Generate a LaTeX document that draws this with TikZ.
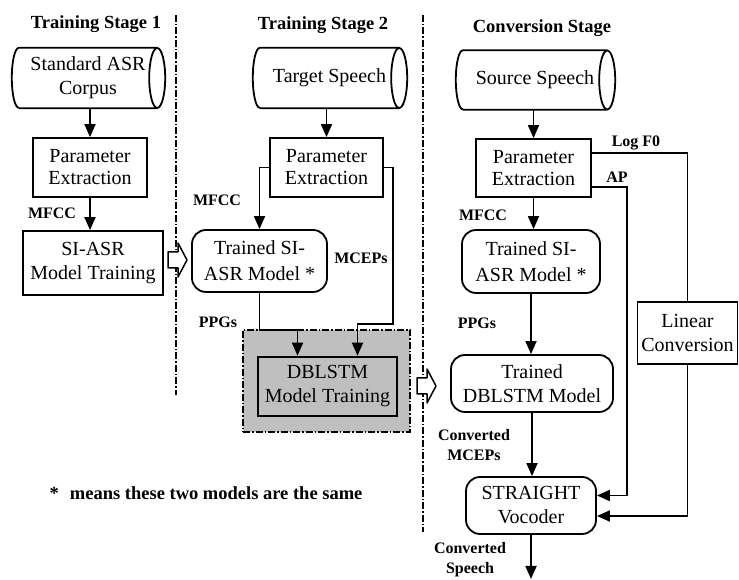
\documentclass[tikz,border=0pt]{standalone}
\usepackage{fontspec}
\setmainfont{Liberation Serif}
\usetikzlibrary{arrows.meta,calc}

\begin{document}
\begin{tikzpicture}[x=1pt,y=1pt,
  box/.style={draw,line width=1.8pt,align=center,inner sep=0pt,
    font=\fontsize{20}{24}\selectfont},
  rbox/.style={box,rounded corners=14pt},
  cyltext/.style={align=center,inner sep=0pt,font=\fontsize{20}{24}\selectfont},
  lbl/.style={font=\bfseries\fontsize{16}{18}\selectfont,align=center,inner sep=0pt},
  ttl/.style={font=\bfseries\fontsize{18.5}{22}\selectfont,inner sep=0pt},
  arr/.style={line width=1.8pt,-{Triangle[length=13pt,width=11pt]}},
  link/.style={line width=1.8pt},
  sep/.style={line width=1.5pt,dash pattern=on 7pt off 2pt on 1.5pt off 2pt},
  blkline/.style={draw,fill=white,line width=1.5pt,line join=round}
]
\useasboundingbox (0,0) rectangle (739,580);

% stage separators
\draw[sep] (176,565) -- (176,185);
\draw[sep] (423,565) -- (423,48);

% titles
\node[ttl] (t1) at (96,556) {Training Stage 1};
\node[ttl] (t2) at (323,555) {Training Stage 2};
\node[ttl] (t3) at (542,552) {Conversion Stage};

% ---------- training stage 1 ----------
\node[cyltext,minimum width=138pt,minimum height=60pt] (cyl1) at (88,502) {Standard ASR\\Corpus};
\draw[link] (cyl1.north west) -- (cyl1.north east) (cyl1.east) ellipse[x radius=8,y radius=30]
  (cyl1.south west) -- (cyl1.south east)
  (cyl1.north west) arc[start angle=90,end angle=270,x radius=7,y radius=30];
\node[box,minimum width=114pt,minimum height=59pt,font=\fontsize{20}{22}\selectfont] (pe1) at (90,412.5) {Parameter\\Extraction};
\node[box,minimum width=140pt,minimum height=64pt] (si1) at (93,317) {SI-ASR\\Model Training};
\draw[arr] (pe1.north |- cyl1.south) -- (pe1.north);
\draw[arr] (pe1.south) -- (pe1.south |- si1.north);
\node[lbl] (m1) at (52,367) {MFCC};
% hollow hand-over arrow
\coordinate (blk1) at (177,320);
\path[blkline] ([shift={(-9,-8)}]blk1) -- ++(10,0) -- ++(0,-9) -- ++(9,17) -- ++(-9,17)
  -- ++(0,-9) -- ++(-10,0) -- cycle;

% ---------- training stage 2 ----------
\node[cyltext,minimum width=139pt,minimum height=60pt] (cyl2) at (329.5,502) {Target Speech};
\draw[link] (cyl2.north west) -- (cyl2.north east) (cyl2.east) ellipse[x radius=8,y radius=30]
  (cyl2.south west) -- (cyl2.south east)
  (cyl2.north west) arc[start angle=90,end angle=270,x radius=7,y radius=30];
\node[box,minimum width=113pt,minimum height=59pt,font=\fontsize{20}{22}\selectfont] (pe2) at (326.5,412.5) {Parameter\\Extraction};
\node[rbox,minimum width=135pt,minimum height=62pt,font=\fontsize{20}{26}\selectfont] (tm1) at (259.5,319) {Trained SI-\\ASR Model *};
\node[draw,sep,fill=black!25,minimum width=167pt,minimum height=102pt,inner sep=0pt] (gbox) at (326.5,199) {};
\node[box,line width=2.6pt,minimum width=139pt,minimum height=59pt] (dbt) at (327.5,193.5) {DBLSTM\\Model Training};
\draw[arr] (pe2.north |- cyl2.south) -- (pe2.north);
\draw[arr] (pe2.west) -| (tm1.north);
\coordinate (mc) at (393,256);
\draw[arr] (pe2.east) -| (mc) -| ([xshift=30]dbt.north);
\draw[arr] (tm1.south) -- ++(0,-37) -| ([xshift=-30]dbt.north);
\node[lbl] (m2) at (217,380) {MFCC};
\node[lbl] (mcep) at (361,322) {MCEPs};
\node[lbl] (ppg1) at (218,258) {PPGs};
\coordinate (blk2) at (426,194);
\path[blkline] ([shift={(-9,-8)}]blk2) -- ++(10,0) -- ++(0,-9) -- ++(9,17) -- ++(-9,17)
  -- ++(0,-9) -- ++(-10,0) -- cycle;

% ---------- conversion stage ----------
\node[cyltext,minimum width=144pt,minimum height=59pt] (cyl3) at (535,500) {Source Speech};
\draw[link] (cyl3.north west) -- (cyl3.north east) (cyl3.east) ellipse[x radius=8,y radius=29.5]
  (cyl3.south west) -- (cyl3.south east)
  (cyl3.north west) arc[start angle=90,end angle=270,x radius=7,y radius=29.5];
\node[box,minimum width=115pt,minimum height=58pt,font=\fontsize{20}{22}\selectfont] (pe3) at (533.5,412) {Parameter\\Extraction};
\node[rbox,minimum width=138pt,minimum height=63pt,font=\fontsize{20}{26}\selectfont] (tm2) at (531,318.5) {Trained SI-\\ASR Model *};
\node[rbox,minimum width=162pt,minimum height=57pt] (td) at (532,196.5) {Trained\\DBLSTM Model};
\node[rbox,minimum width=130pt,minimum height=57pt] (sv) at (531,74.5) {STRAIGHT\\Vocoder};
\node[box,minimum width=100pt,minimum height=62pt] (lc) at (687.5,247) {Linear\\Conversion};
\coordinate (out) at (531,1);
\coordinate (apx) at (627,200);
\draw[arr] (pe3.north |- cyl3.south) -- (pe3.north);
\draw[arr] (pe3.south) -- (pe3.south |- tm2.north);
\draw[arr] (tm2.south) -- (tm2.south |- td.north);
\draw[arr] (td.south) -- (td.south |- sv.north);
\draw[arr] (sv.south) -- (sv.south |- out);
\draw[link] ([yshift=15]pe3.east) -| (lc.north);
\draw[arr] (lc.south) |- ([yshift=-10.5]sv.east);
\draw[arr] ([yshift=-19]pe3.east) -| (apx) |- ([yshift=10]sv.east);
\node[lbl] (lf0) at (636,437) {Log F0};
\node[lbl] (ap) at (617,403) {AP};
\node[lbl] (m3) at (483,365) {MFCC};
\node[lbl] (ppg2) at (477,257) {PPGs};
\node[lbl,font=\bfseries\fontsize{16}{20}\selectfont] (cm) at (474,135) {Converted\\MCEPs};
\node[lbl,font=\bfseries\fontsize{16}{20}\selectfont] (cs) at (470,20) {Converted\\Speech};

% footnote
\node[font=\bfseries\fontsize{18.5}{22}\selectfont,inner sep=0pt] (note) at (206,87) {*\hspace{0.6em}means these two models are the same};
\end{tikzpicture}
\end{document}
